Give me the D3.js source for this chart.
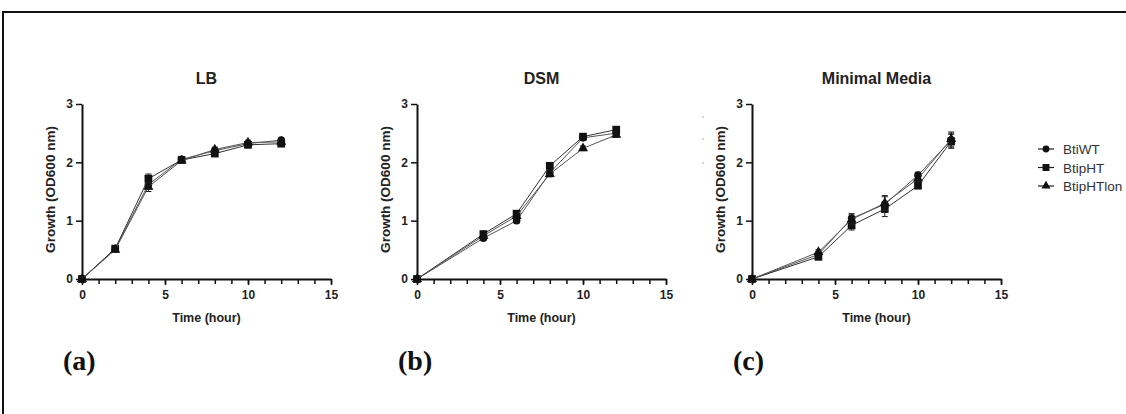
<!DOCTYPE html>
<html>
<head>
<meta charset="utf-8">
<script src="https://cdn.jsdelivr.net/npm/d3@7"></script>
<style>
  body { margin: 0; background: #fff; }
  svg { display: block; }
  .tick text { font-family: "Liberation Sans", Arial, sans-serif; font-weight: bold; font-size: 12px; fill: #222; }
</style>
</head>
<body>
<svg id="chart" width="1126" height="414"></svg>
<script>
// data
const seriesNames = ['BtiWT', 'BtipHT', 'BtipHTlon']
const panelTitles = ['LB', 'DSM', 'Minimal Media']
const panelLetters = ['(a)', '(b)', '(c)']

const lbHours = [0, 2, 4, 6, 8, 10, 12]
const lbWT = [0, 0.52, 1.62, 2.05, 2.20, 2.32, 2.38]
const lbHT = [0, 0.52, 1.72, 2.04, 2.15, 2.30, 2.32]
const lbHTlon = [0, 0.50, 1.58, 2.03, 2.22, 2.34, 2.35]
const lbErr = [0, 0.03, 0.08, 0.03, 0.04, 0.04, 0.03]

const dsmHours = [0, 4, 6, 8, 10, 12]
const dsmWT = [0, 0.70, 1.00, 1.82, 2.42, 2.50]
const dsmHT = [0, 0.77, 1.12, 1.94, 2.44, 2.56]
const dsmHTlon = [0, 0.74, 1.08, 1.80, 2.24, 2.47]
const dsmErr = [0, 0.04, 0.04, 0.05, 0.04, 0.04]

const mmHours = [0, 4, 6, 8, 10, 12]
const mmWT = [0, 0.42, 1.04, 1.28, 1.78, 2.38]
const mmHT = [0, 0.38, 0.92, 1.20, 1.60, 2.36]
const mmHTlon = [0, 0.46, 1.02, 1.30, 1.72, 2.40]
const mmErr = [0, 0.04, 0.08, 0.13, 0.05, 0.12]

const xTicks = [0, 5, 10, 15]
const yTicks = [0, 1, 2, 3]

const panels = [
  { hours: lbHours, series: [lbWT, lbHT, lbHTlon], err: lbErr },
  { hours: dsmHours, series: [dsmWT, dsmHT, dsmHTlon], err: dsmErr },
  { hours: mmHours, series: [mmWT, mmHT, mmHTlon], err: mmErr }
]

const svg = d3.select('#chart')
const font = '"Liberation Sans", Arial, sans-serif'

// outer frame (only top and left edges visible)
svg.append('path')
  .attr('d', 'M3,420 L3,12 L1130,12')
  .attr('fill', 'none')
  .attr('stroke', '#111')
  .attr('stroke-width', 2)

const panelLeft = [82, 417, 752]
const plotW = 249
const plotTop = 104
const plotH = 175

const symbols = [d3.symbolCircle, d3.symbolSquare, d3.symbolTriangle]
const symSize = [46, 60, 44]

panels.forEach((p, i) => {
  const g = svg.append('g').attr('transform', `translate(${panelLeft[i]},${plotTop})`)
  const x = d3.scaleLinear().domain([0, 15]).range([0, plotW])
  const y = d3.scaleLinear().domain([0, 3]).range([plotH, 0])

  // minor x ticks every hour
  g.append('g')
    .attr('transform', `translate(0,${plotH})`)
    .call(d3.axisBottom(x).tickValues(d3.range(0, 16)).tickSize(5).tickFormat(''))
    .call(a => a.select('.domain').remove())
    .selectAll('line').attr('stroke', '#111').attr('stroke-width', 1.5)

  const xa = g.append('g')
    .attr('transform', `translate(0,${plotH})`)
    .call(d3.axisBottom(x).tickValues(xTicks).tickSize(6).tickSizeOuter(0).tickPadding(5))
  xa.select('.domain').attr('stroke', '#111').attr('stroke-width', 2)
  xa.selectAll('line').attr('stroke', '#111').attr('stroke-width', 1.5)

  const ya = g.append('g')
    .call(d3.axisLeft(y).tickValues(yTicks).tickFormat(d3.format('d')).tickSize(6).tickSizeOuter(0).tickPadding(3))
  ya.select('.domain').attr('stroke', '#111').attr('stroke-width', 2)
  ya.selectAll('line').attr('stroke', '#111').attr('stroke-width', 1.5)

  // title
  svg.append('text')
    .attr('x', panelLeft[i] + plotW / 2).attr('y', 84)
    .attr('text-anchor', 'middle')
    .attr('font-family', font).attr('font-weight', 'bold').attr('font-size', 16)
    .attr('fill', '#222')
    .text(panelTitles[i])

  // axis titles
  svg.append('text')
    .attr('x', panelLeft[i] + plotW / 2).attr('y', 322)
    .attr('text-anchor', 'middle')
    .attr('font-family', font).attr('font-weight', 'bold').attr('font-size', 12.5)
    .attr('fill', '#222')
    .text('Time (hour)')
  svg.append('text')
    .attr('transform', `translate(${panelLeft[i] - 27},${plotTop + plotH / 2 - 2}) rotate(-90)`)
    .attr('text-anchor', 'middle')
    .attr('font-family', font).attr('font-weight', 'bold').attr('font-size', 13.5)
    .attr('fill', '#222')
    .text('Growth (OD600 nm)')

  // panel letter
  svg.append('text')
    .attr('x', panelLeft[i] - 19).attr('y', 370)
    .attr('font-family', '"Liberation Serif", "Times New Roman", serif')
    .attr('font-weight', 'bold').attr('font-size', 28)
    .attr('fill', '#111')
    .text(panelLetters[i])

  const line = d3.line().x(d => x(d[0])).y(d => y(d[1]))

  p.series.forEach((vals, s) => {
    const pts = p.hours.map((h, k) => [h, vals[k], p.err[k]])
    g.append('path')
      .datum(pts)
      .attr('d', line)
      .attr('fill', 'none')
      .attr('stroke', s === 1 ? '#333' : '#555')
      .attr('stroke-width', 1)

    // error bars
    g.selectAll(null)
      .data(pts.filter(d => d[2] > 0))
      .join('path')
      .attr('d', d => {
        const cx = x(d[0]), y0 = y(d[1] - d[2]), y1 = y(d[1] + d[2])
        return `M${cx},${y0}L${cx},${y1}M${cx - 3},${y0}L${cx + 3},${y0}M${cx - 3},${y1}L${cx + 3},${y1}`
      })
      .attr('stroke', '#222')
      .attr('stroke-width', 1)
      .attr('fill', 'none')

    g.selectAll(null)
      .data(pts)
      .join('path')
      .attr('transform', d => `translate(${x(d[0])},${y(d[1])})`)
      .attr('d', d3.symbol().type(symbols[s]).size(symSize[s]))
      .attr('fill', '#111')
  })
})

// stray dots near third panel
svg.selectAll('circle.stray')
  .data([117, 139, 163])
  .join('circle')
  .attr('class', 'stray')
  .attr('cx', 703).attr('cy', d => d)
  .attr('r', 0.8).attr('fill', '#999')

// legend
const legend = svg.append('g').attr('transform', 'translate(1038,149)')
seriesNames.forEach((name, s) => {
  const row = legend.append('g').attr('transform', `translate(0,${s * 18.5})`)
  row.append('line')
    .attr('x1', 0).attr('x2', 16)
    .attr('stroke', '#222').attr('stroke-width', 1.2)
  row.append('path')
    .attr('transform', 'translate(8,0)')
    .attr('d', d3.symbol().type(symbols[s]).size(symSize[s] * 0.8))
    .attr('fill', '#111')
  row.append('text')
    .attr('x', 25).attr('y', 5)
    .attr('font-family', font).attr('font-size', 13.5)
    .attr('fill', '#333')
    .text(name)
})
</script>
</body>
</html>
